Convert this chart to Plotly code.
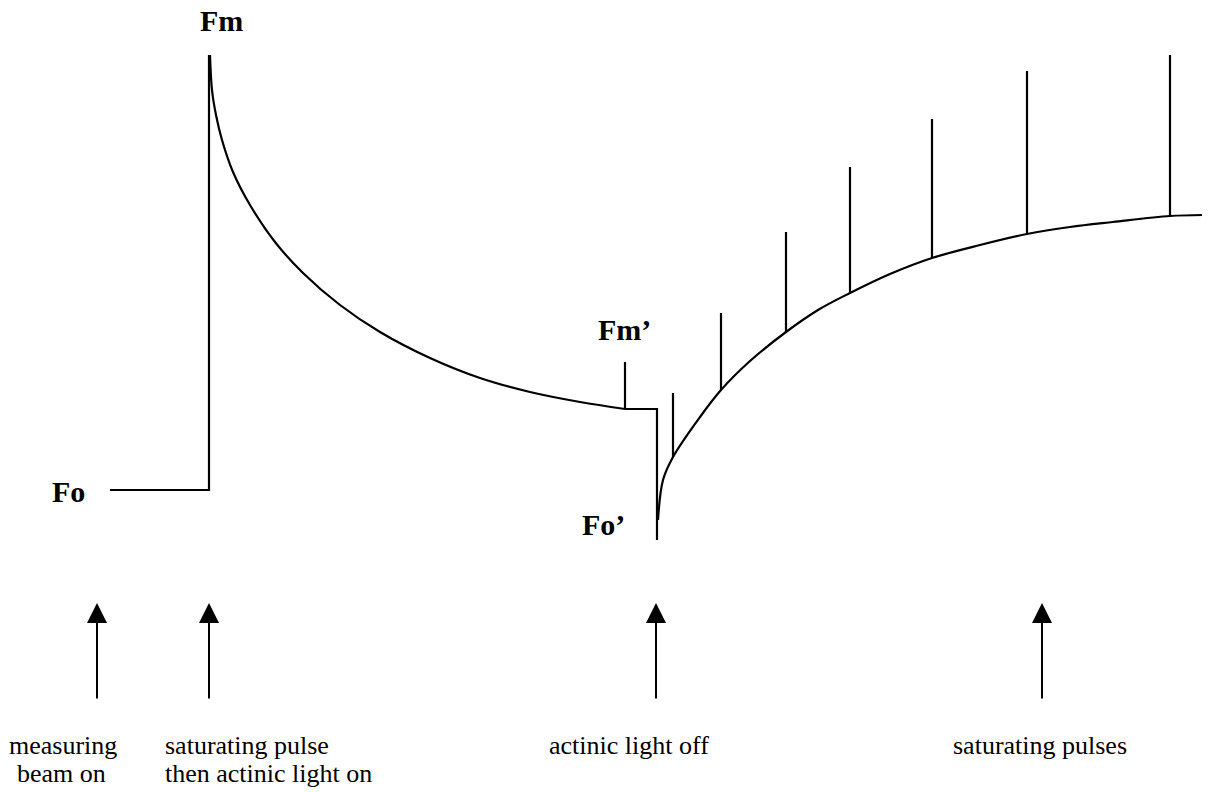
import plotly.graph_objects as go

W, H = 1213, 792

# Dark-adapted baseline and the saturating pulse that follows
fo_t = [110, 209, 209]
fo_F = [302, 302, 737]

# Quenching of fluorescence under actinic light (decay from Fm)
decay_t = [210, 212, 216, 222, 233, 250, 275, 303, 340, 380, 430, 480, 530, 580, 625]
decay_F = [737, 702, 677, 652, 620, 587, 550, 519, 487, 460, 434, 414, 400, 390, 383]

# Steady state, then actinic light switched off
steady_t = [625, 657, 657]
steady_F = [383, 383, 252]

# Pulse given during actinic light (Fm')
fmp_t = 625
fmp_top = 430

# Dark recovery of fluorescence after actinic light off
recov_t = [658, 663, 673, 700, 721, 750, 786, 818, 850, 890, 932, 980, 1027, 1070, 1113, 1170, 1202]
recov_F = [272, 312, 335, 375, 402, 431, 460, 482, 499, 518, 534, 547, 558, 565, 570, 576, 577]

# Saturating pulses during recovery: times and peak levels
pulse_t = [673, 721, 786, 850, 932, 1027, 1170]
pulse_top = [399, 479, 560, 625, 673, 721, 737]

# Event markers along the time axis
event_t = [97, 209, 656, 1042]
arrow_tail, arrow_head = 92, 189

# Curve labels
level_labels = [
    ("Fm", 221, 772, "center"),
    ("Fo", 87, 301, "right"),
    ("Fm\u2019", 596, 463, "left"),
    ("Fo\u2019", 580, 268, "left"),
]

# Event captions (one entry per text line)
captions = [
    ("measuring", 63, 47, "center"),
    ("beam on", 61, 19, "center"),
    ("saturating pulse", 163, 47, "left"),
    ("then actinic light on", 163, 19, "left"),
    ("actinic light off", 629, 47, "center"),
    ("saturating pulses", 1040, 47, "center"),
]

LINE = dict(color="black", width=2.2)
CURVE = dict(color="black", width=2.2, shape="spline", smoothing=1.0)
SERIF = "Liberation Serif, Times New Roman, serif"

fig = go.Figure()
fig.add_trace(go.Scatter(x=fo_t, y=fo_F, mode="lines", line=LINE))
fig.add_trace(go.Scatter(x=decay_t, y=decay_F, mode="lines", line=CURVE))
fig.add_trace(go.Scatter(x=steady_t, y=steady_F, mode="lines", line=LINE))
fig.add_trace(go.Scatter(x=[fmp_t, fmp_t], y=[steady_F[0], fmp_top], mode="lines", line=LINE))
fig.add_trace(go.Scatter(x=recov_t, y=recov_F, mode="lines", line=CURVE))

# vertical pulse spikes, rising from the recovery curve
px, py = [], []
for t, top in zip(pulse_t, pulse_top):
    base = recov_F[recov_t.index(t)]
    px += [t, t, None]
    py += [base, top, None]
fig.add_trace(go.Scatter(x=px, y=py, mode="lines", line=LINE))

for t in event_t:
    fig.add_annotation(x=t, y=arrow_head, ax=t, ay=arrow_tail,
                       xref="x", yref="y", axref="x", ayref="y",
                       showarrow=True, arrowhead=2, arrowsize=2,
                       arrowwidth=2, arrowcolor="black", text="")

for txt, x, y, anchor in level_labels:
    fig.add_annotation(x=x, y=y, xref="x", yref="y", text=f"<b>{txt}</b>",
                       showarrow=False, xanchor=anchor, yanchor="middle",
                       font=dict(family=SERIF, size=30, color="black"))

for txt, x, y, anchor in captions:
    fig.add_annotation(x=x, y=y, xref="x", yref="y", text=txt,
                       showarrow=False, xanchor=anchor, yanchor="middle",
                       font=dict(family=SERIF, size=26, color="black"))

fig.update_layout(
    width=W, height=H,
    margin=dict(l=0, r=0, t=0, b=0),
    paper_bgcolor="white", plot_bgcolor="white",
    showlegend=False,
    xaxis=dict(range=[0, W], visible=False, fixedrange=True),
    yaxis=dict(range=[0, H], visible=False, fixedrange=True),
)

fig.write_html("out.html")
